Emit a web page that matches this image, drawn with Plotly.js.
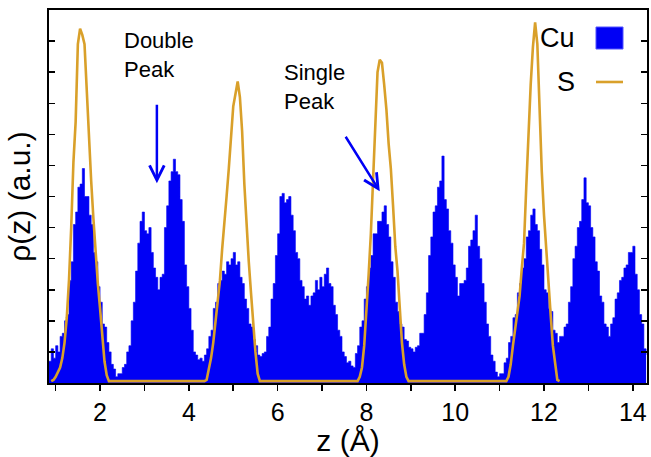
<!DOCTYPE html>
<html>
<head>
<meta charset="utf-8">
<script src="https://cdn.plot.ly/plotly-3.0.1.min.js"></script>
<style>html,body{margin:0;padding:0;background:#fff;}#chart{width:651px;height:457px;}</style>
</head>
<body>
<div id="chart"></div>
<script>
// Cu density, bins of 0.05 Å starting at z = 0.85
var cuStart = 0.85, cuStep = 0.05;
var cuValues = [
0.7,1.1,0.8,1.2,1.0,1.5,1.6,2.0,2.2,3.3,3.9,5.1,5.5,6.3,6.4,6.9,6.0,6.0,5.4,5.1,
4.2,3.9,3.1,2.6,1.9,1.8,1.3,1.0,0.6,0.45,0.2,0.3,0.3,0.5,0.6,1.0,1.2,2.0,2.6,3.6,
4.5,5.2,5.5,4.9,4.8,5.0,4.2,3.7,3.4,3.0,3.4,3.5,5.0,5.7,6.5,6.8,7.2,6.8,6.7,5.9,
5.2,3.8,3.1,2.4,1.7,1.0,0.9,0.75,0.8,0.7,0.9,1.1,1.5,1.7,2.4,2.6,3.2,3.3,3.6,3.5,
3.9,3.8,4.0,4.2,3.8,3.9,3.4,3.2,2.7,2.4,1.9,1.8,1.4,1.2,0.9,0.85,0.95,1.0,1.5,1.8,
2.7,3.2,4.1,4.8,6.0,6.1,5.8,5.9,6.0,5.4,4.9,4.2,4.0,3.3,3.1,2.7,2.8,2.5,2.8,2.9,
3.3,3.0,3.4,3.1,3.5,3.7,3.2,3.1,2.5,2.2,1.7,1.5,1.0,0.85,0.65,0.7,0.55,0.5,0.95,1.2,
1.8,2.0,2.7,3.1,3.7,4.1,4.8,4.8,5.2,5.2,5.5,5.7,5.1,4.7,3.9,3.4,2.6,2.3,1.9,1.8,
1.4,1.35,1.15,1.1,1.0,1.15,1.2,1.6,1.6,2.2,2.9,4.1,4.7,5.5,5.7,6.3,6.5,7.3,5.9,5.6,
4.9,4.5,3.8,3.4,2.8,3.2,3.2,3.3,3.7,4.4,4.6,4.9,5.4,4.4,4.0,3.2,2.6,1.9,1.5,0.9,
0.7,0.35,0.2,0.3,0.3,0.65,0.8,1.3,1.5,2.1,2.2,2.9,3.2,3.7,4.0,4.7,4.9,5.4,5.6,5.1,
4.9,4.3,3.8,3.0,2.9,2.4,2.3,1.7,1.6,1.3,1.5,1.5,1.8,1.9,2.6,3.1,4.0,4.4,5.0,5.2,
5.9,6.6,5.8,5.7,5.0,4.7,3.9,3.6,2.8,2.6,1.9,1.8,1.5,1.9,2.1,2.7,2.9,3.3,3.4,3.7,
3.8,4.2,4.2,4.4,3.5,3.0,2.2,1.9,1.1,0.9
];

// S density, samples every 0.05 Å starting at z = 0.90
var sStart = 0.90, sStep = 0.05;
var sValues = [
0.06,0.1,0.2,0.35,0.5,0.8,1.3,2.1,3.3,5.0,7.1,8.4,10.9,11.4,11.2,10.9,9.4,7.6,6.5,5.3,
4.2,3.2,2.4,1.5,0.7,0.25,0.06,0.06,0.06,0.06,0.06,0.06,0.06,0.06,0.06,0.06,0.06,0.06,0.06,0.06,
0.06,0.06,0.06,0.06,0.06,0.06,0.06,0.06,0.06,0.06,0.06,0.06,0.06,0.06,0.06,0.06,0.06,0.06,0.06,0.06,
0.06,0.06,0.06,0.06,0.06,0.06,0.06,0.06,0.06,0.06,0.1,0.4,0.8,1.3,1.9,2.6,3.3,4.3,5.3,6.0,
6.9,7.8,8.9,9.3,9.7,9.2,8.1,6.4,5.0,3.9,2.9,1.9,1.0,0.3,0.06,0.06,0.06,0.06,0.06,0.06,
0.06,0.06,0.06,0.06,0.06,0.06,0.06,0.06,0.06,0.06,0.06,0.06,0.06,0.06,0.06,0.06,0.06,0.06,0.06,0.06,
0.06,0.06,0.06,0.06,0.06,0.06,0.06,0.06,0.06,0.06,0.06,0.06,0.06,0.06,0.06,0.06,0.06,0.06,0.06,0.2,
0.5,1.2,2.2,3.5,4.8,6.5,8.6,10.0,10.4,10.3,9.6,8.8,7.7,6.9,5.7,4.4,3.6,2.5,1.3,0.6,
0.2,0.06,0.06,0.06,0.06,0.06,0.06,0.06,0.06,0.06,0.06,0.06,0.06,0.06,0.06,0.06,0.06,0.06,0.06,0.06,
0.06,0.06,0.06,0.06,0.06,0.06,0.06,0.06,0.06,0.06,0.06,0.06,0.06,0.06,0.06,0.06,0.06,0.06,0.06,0.06,
0.06,0.06,0.06,0.06,0.06,0.06,0.2,0.6,1.2,1.7,2.3,2.8,3.7,4.5,6.3,8.1,9.6,10.8,11.6,10.9,
8.6,6.8,5.4,4.2,3.1,2.2,1.2,0.6,0.1,0.06
];

var xTickVals = [1,2,3,4,5,6,7,8,9,10,11,12,13,14];
var xTickText = ['','2','','4','','6','','8','','10','','12','','14'];
var seriesNames = ['Cu','S'];
var labelDouble = 'Double<br>Peak';
var labelSingle = 'Single<br>Peak';

var BLUE = '#0000f5', GOLD = '#d9a02a';
var FONT = 'Liberation Sans, Arial, Helvetica, sans-serif';

var traces = [
  {type:'scatter', mode:'lines', name:seriesNames[0], x0:cuStart, dx:cuStep, y:cuValues,
   line:{color:BLUE, width:0.6, shape:'hv'}, fill:'tozeroy', fillcolor:BLUE, showlegend:false},
  {type:'scatter', mode:'lines', name:seriesNames[1], x0:sStart, dx:sStep, y:sValues,
   line:{color:GOLD, width:2.6}, showlegend:false}
];

var layout = {
  width:651, height:457,
  margin:{l:49, r:4, t:10, b:74},
  paper_bgcolor:'#fff', plot_bgcolor:'#fff',
  font:{family:FONT, color:'#000'},
  xaxis:{range:[0.85,14.32], tickvals:xTickVals, ticktext:xTickText,
    ticks:'outside', ticklen:6, tickwidth:1.5, tickcolor:'#000',
    showline:true, linewidth:2, linecolor:'#000', mirror:true,
    showgrid:false, zeroline:false, tickfont:{size:25, family:FONT},
    title:{text:'z (Å)', font:{size:30, family:FONT}, standoff:7}},
  yaxis:{range:[0,12], dtick:1, tick0:0, ticks:'inside', ticklen:6, tickwidth:1.5, tickcolor:'#000',
    showticklabels:false, showline:true, linewidth:2, linecolor:'#000', mirror:'allticks',
    showgrid:false, zeroline:false,
    title:{text:'ρ(z) (a.u.)', font:{size:30, family:FONT}, standoff:8}},
  annotations:[
    {xref:'x', yref:'y', x:2.50, y:11.5, xanchor:'left', yanchor:'top', align:'left', text:labelDouble, showarrow:false, font:{size:22, family:FONT}},
    {xref:'x', yref:'y', x:6.10, y:10.47, xanchor:'left', yanchor:'top', align:'left', text:labelSingle, showarrow:false, font:{size:22, family:FONT}},
    {xref:'x', yref:'y', x:3.28, y:6.43, ax:0, ay:-80, text:'', showarrow:true, arrowhead:5, arrowsize:1.15, arrowwidth:2.5, arrowcolor:BLUE, standoff:0},
    {xref:'x', yref:'y', x:8.30, y:6.17, ax:-35, ay:-56, text:'', showarrow:true, arrowhead:5, arrowsize:1.15, arrowwidth:2.5, arrowcolor:BLUE, standoff:0},
    {xref:'paper', yref:'paper', x:0.883, y:0.925, xanchor:'right', yanchor:'middle', text:seriesNames[0], showarrow:false, font:{size:27, family:FONT}},
    {xref:'paper', yref:'paper', x:0.883, y:0.807, xanchor:'right', yanchor:'middle', text:seriesNames[1], showarrow:false, font:{size:27, family:FONT}}
  ],
  shapes:[
    {type:'rect', xref:'paper', yref:'paper', x0:0.9147, x1:0.9599, y0:0.8954, y1:0.9544, fillcolor:BLUE, line:{color:'#5555ff', width:1}},
    {type:'line', xref:'paper', yref:'paper', x0:0.9147, x1:0.9599, y0:0.807, y1:0.807, line:{color:GOLD, width:2.6}}
  ]
};

Plotly.newPlot('chart', traces, layout, {staticPlot:true, displayModeBar:false});
</script>
</body>
</html>
